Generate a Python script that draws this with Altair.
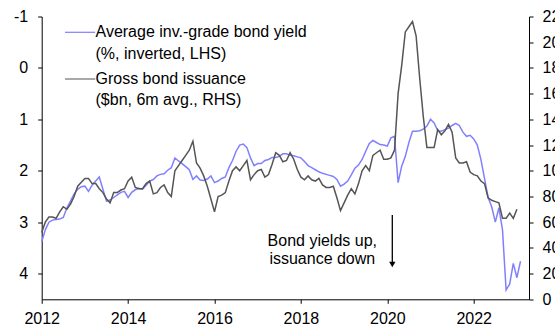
import altair as alt
import pandas as pd

# ---- data (monthly, starting Jan 2012) ----
yield_pct = [
    3.38, 3.15, 3.00, 2.96, 2.95, 2.94, 2.91, 2.72, 2.59, 2.45, 2.36, 2.31,   # 2012
    2.30, 2.40, 2.28, 2.20, 2.12, 2.36, 2.59, 2.57, 2.52, 2.47, 2.42, 2.40,   # 2013
    2.52, 2.42, 2.37, 2.34, 2.36, 2.28, 2.20, 2.17, 2.10, 2.07, 2.06, 1.99,   # 2014
    1.94, 1.75, 1.81, 1.86, 1.92, 1.98, 2.17, 2.10, 2.18, 2.19, 2.16, 2.10,   # 2015
    2.23, 2.20, 2.15, 2.12, 1.94, 1.80, 1.62, 1.50, 1.48, 1.55, 1.75, 1.90,   # 2016
    1.86, 1.86, 1.80, 1.78, 1.74, 1.74, 1.72, 1.67, 1.67, 1.70, 1.71, 1.73,   # 2017
    1.75, 1.82, 1.90, 1.94, 1.98, 2.02, 2.05, 2.07, 2.09, 2.11, 2.17, 2.30,   # 2018
    2.26, 2.20, 2.08, 1.95, 1.89, 1.78, 1.62, 1.47, 1.41, 1.45, 1.49, 1.50,   # 2019
    1.52, 1.36, 1.33, 2.23, 1.91, 1.72, 1.45, 1.23, 1.23, 1.22, 1.19, 1.13,   # 2020
    1.00, 1.07, 1.22, 1.23, 1.20, 1.17, 1.12, 1.08, 1.12, 1.25, 1.33, 1.31,   # 2021
    1.38, 1.50, 1.78, 2.15, 2.52, 2.70, 3.00, 2.72, 3.15, 4.32, 4.20, 3.80,   # 2022
    4.08, 3.76,                                                               # 2023
]
issuance_bn = [
    52, 60, 64, 64, 63, 68, 72, 70, 74, 80, 88, 91,             # 2012
    94, 94, 90, 90, 86, 83, 78, 75, 83, 83, 85, 86,             # 2013
    92, 95, 87, 86, 86, 90, 92, 82, 83, 87, 89, 83,             # 2014
    80, 100, 104, 108, 112, 116, 123, 106, 102, 96, 88, 78,     # 2015
    68, 80, 81, 83, 92, 100, 103, 100, 104, 108, 93, 97,        # 2016
    100, 101, 95, 97, 105, 114, 112, 107, 108, 114, 109, 101,   # 2017
    95, 93, 96, 93, 92, 94, 89, 87, 87, 88, 79, 69,             # 2018
    75, 81, 86, 82, 90, 100, 104, 100, 112, 114, 116, 109,      # 2019
    109, 110, 116, 160, 182, 208, 212, 216, 205, 172, 142, 118, # 2020
    118, 118, 132, 128, 131, 136, 130, 110, 106, 106, 107, 99,  # 2021
    97, 96, 92, 90, 79, 77, 76, 75, 63, 63, 67, 63,             # 2022
    70,                                                         # 2023
]

legend_labels = ["Average inv.-grade bond yield", "(%, inverted, LHS)",
                 "Gross bond issuance", "($bn, 6m avg., RHS)"]
annotation_lines = ["Bond yields up,", "issuance down"]
year_ticks = [2012, 2014, 2016, 2018, 2020, 2022]
left_ticks = [-1, 0, 1, 2, 3, 4]
right_ticks = list(range(0, 221, 20))

BLUE = "#8080ff"
GREY = "#555555"
FONT = "Liberation Sans"


def month_frame(values, name):
    months = [f"{2012 + i // 12}-{i % 12 + 1:02d}" for i in range(len(values))]
    t = [int(m[:4]) + (int(m[5:]) - 1) / 12 for m in months]
    return pd.DataFrame({"month": months, "t": t, name: values})


df_y = month_frame(yield_pct, "yield")
df_i = month_frame(issuance_bn, "issuance")

x_enc = alt.X(
    "t:Q",
    scale=alt.Scale(domain=[2012, 2023.28], nice=False, zero=False),
    axis=alt.Axis(values=year_ticks, format="d", title=None, tickSize=4,
                  labelPadding=7, labelFlush=False, labelOverlap=False),
)

blue = alt.Chart(df_y).mark_line(color=BLUE, strokeWidth=1.5).encode(
    x=x_enc,
    y=alt.Y("yield:Q",
            scale=alt.Scale(domain=[-1, 4.5], reverse=True, nice=False, zero=False),
            axis=alt.Axis(orient="left", values=left_ticks, title=None, tickSize=4,
                          labelPadding=10, labelFlush=False, labelOverlap=False,
                          labelExpr="'' + datum.value")),
)

grey = alt.Chart(df_i).mark_line(color=GREY, strokeWidth=1.5).encode(
    x=x_enc,
    y=alt.Y("issuance:Q",
            scale=alt.Scale(domain=[0, 220], nice=False, zero=False),
            axis=alt.Axis(orient="right", values=right_ticks, title=None, tickSize=4,
                          labelPadding=9, labelFlush=False, labelOverlap=False)),
)

# ---- legend (manual, pixel layout) ----
one = pd.DataFrame({"k": [0]})
leg_blue = alt.Chart(one).mark_rule(color=BLUE, strokeWidth=1.2).encode(
    x=alt.value(23.3), x2=alt.value(53.5), y=alt.value(15.8))
leg_grey = alt.Chart(one).mark_rule(color="#707070", strokeWidth=1.2).encode(
    x=alt.value(23.3), x2=alt.value(53.5), y=alt.value(62.5))

leg_texts = []
for label, yy in zip(legend_labels, [20.8, 42.8, 67.5, 88.5]):
    leg_texts.append(
        alt.Chart(pd.DataFrame({"label": [label]})).mark_text(
            align="left", baseline="alphabetic", font=FONT, fontSize=16, color="black"
        ).encode(x=alt.value(53.8), y=alt.value(yy), text="label:N")
    )

ann_texts = []
for label, yy in zip(annotation_lines, [229.0, 247.0]):
    ann_texts.append(
        alt.Chart(pd.DataFrame({"label": [label]})).mark_text(
            align="center", baseline="alphabetic", font=FONT, fontSize=16, color="black"
        ).encode(x=alt.value(280.6), y=alt.value(yy), text="label:N")
    )

arrow_shaft = alt.Chart(one).mark_rule(color="black", strokeWidth=1.3).encode(
    x=alt.value(350.6), y=alt.value(198.5), y2=alt.value(246))
arrow_head = alt.Chart(one).mark_point(
    shape="triangle-down", filled=True, color="black", size=40, opacity=1
).encode(x=alt.value(350.6), y=alt.value(248))

chart = alt.layer(
    blue, grey, leg_blue, leg_grey, *leg_texts, *ann_texts, arrow_shaft, arrow_head
).resolve_scale(
    y="independent"
).properties(
    width=487.3,
    height=282.8,
    padding={"left": 41.7, "top": 16.5, "right": 26, "bottom": 27.7},
    autosize=alt.AutoSizeParams(type="none"),
    background="white",
).configure_axis(
    labelFont=FONT,
    labelFontSize=16,
    labelColor="black",
    domainColor="black",
    tickColor="black",
    domainWidth=1,
    tickWidth=1,
    grid=False,
).configure_view(stroke=None)

chart.save("out.html", embed_options={"renderer": "svg", "actions": False})
